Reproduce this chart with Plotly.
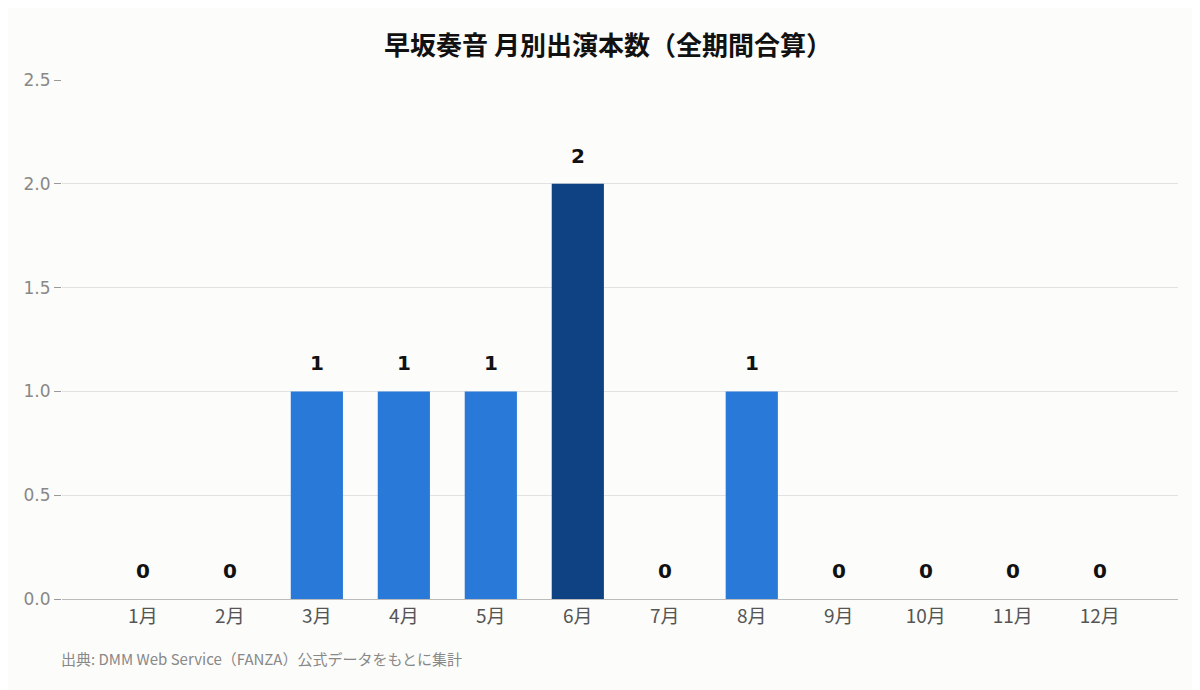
import plotly.graph_objects as go

months = ["1月", "2月", "3月", "4月", "5月", "6月", "7月", "8月", "9月", "10月", "11月", "12月"]
counts = [0, 0, 1, 1, 1, 2, 0, 1, 0, 0, 0, 0]

peak = max(counts)
colors = ["#0f4282" if c == peak else "#2979d8" for c in counts]

fig = go.Figure(go.Bar(
    x=months, y=counts, width=0.6,
    marker=dict(color=colors, line=dict(width=0)),
    hoverinfo="x+y",
))

# value labels above bars
labels = [dict(x=m, y=c, text="<b>%d</b>" % c, showarrow=False, yanchor="bottom",
               yshift=14, font=dict(size=20, color="#111", family="DejaVu Sans"))
          for m, c in zip(months, counts)]

labels.append(dict(text="出典: DMM Web Service（FANZA）公式データをもとに集計",
                   xref="paper", yref="paper", x=-0.003, y=-0.115,
                   xanchor="left", yanchor="middle", showarrow=False,
                   font=dict(size=15, color="#888", family="Noto Sans CJK JP")))

fig.update_layout(
    width=1200, height=690,
    paper_bgcolor="#fcfcfa", plot_bgcolor="#fcfcfa",
    font=dict(family="DejaVu Sans, Noto Sans CJK JP"),
    title=dict(text="<b>早坂奏音 月別出演本数（全期間合算）</b>", x=0.5, y=0.958,
               xanchor="center", font=dict(size=26, color="#111",
                                           family="Noto Sans CJK JP")),
    margin=dict(l=54, r=30, t=72, b=99),
    showlegend=False,
    xaxis=dict(range=[-0.93, 11.9], showline=True, linecolor="#bbb", linewidth=1,
               tickfont=dict(size=19, color="#555", family="Noto Sans CJK JP")),
    yaxis=dict(range=[0, 2.5], dtick=0.5, tickformat=".1f", gridcolor="#e2e2e2",
               ticks="outside", ticklen=7, tickcolor="#999", zeroline=False,
               tickfont=dict(size=17, color="#888")),
    annotations=labels,
)

fig.write_html("out.html")
